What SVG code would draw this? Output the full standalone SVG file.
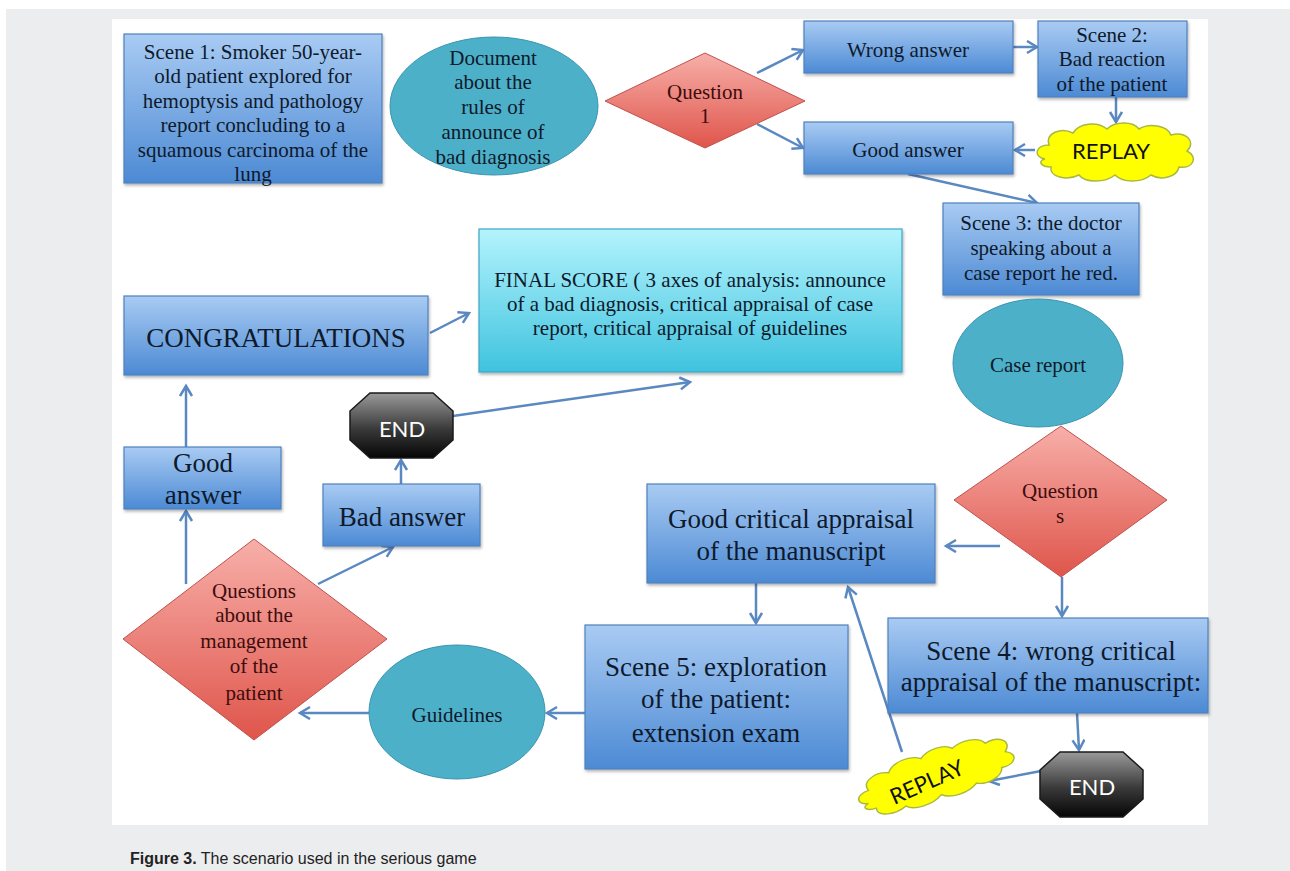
<svg xmlns="http://www.w3.org/2000/svg" width="1290" height="871" viewBox="0 0 1290 871">
<defs>
<linearGradient id="gBlue" x1="0" y1="0" x2="0" y2="1"><stop offset="0" stop-color="#A9CBF3"/><stop offset="1" stop-color="#4C8AD4"/></linearGradient>
<linearGradient id="gCyan" x1="0" y1="0" x2="0" y2="1"><stop offset="0" stop-color="#B4F4FD"/><stop offset="1" stop-color="#3FC3DF"/></linearGradient>
<linearGradient id="gRed" x1="0" y1="0" x2="0" y2="1"><stop offset="0" stop-color="#F7AFA9"/><stop offset="1" stop-color="#DF554B"/></linearGradient>
<linearGradient id="gEnd" x1="0" y1="0" x2="0" y2="1"><stop offset="0" stop-color="#9A9A9A"/><stop offset="0.55" stop-color="#3A3A3A"/><stop offset="1" stop-color="#050505"/></linearGradient>
<filter id="sh" x="-10%" y="-10%" width="120%" height="130%"><feDropShadow dx="1" dy="2" stdDeviation="1.5" flood-color="#000" flood-opacity="0.3"/></filter>
<marker id="ar" markerUnits="userSpaceOnUse" markerWidth="16" markerHeight="16" refX="12" refY="7" orient="auto"><path d="M2,1 L12,7 L2,13" fill="none" stroke="#5A88C0" stroke-width="2.5"/></marker>
<path id="cloud" d="M14,38 C2,36 4,24 18,24 C14,12 30,6 42,12 C48,2 66,0 76,8 C84,0 102,0 108,8 C118,2 136,4 140,14 C154,10 166,20 156,30 C168,36 162,48 148,46 C146,56 130,60 120,54 C110,62 92,62 84,54 C74,62 54,62 48,54 C36,60 18,56 20,46 C10,46 6,40 14,38 Z"/>
<style>
.box{fill:url(#gBlue);stroke:#4F81BD;stroke-width:1.2;filter:url(#sh)}
.cyan{fill:url(#gCyan);stroke:#3FA7C4;stroke-width:1.2;filter:url(#sh)}
.dia{fill:url(#gRed);stroke:#C0504D;stroke-width:1}
.ell{fill:#4DB0C9;stroke:#3A95B0;stroke-width:1}
.cl{fill:#FFFF00;stroke:#A8B840;stroke-width:1.5}
.oct{fill:url(#gEnd);stroke:#1A1A1A;stroke-width:1.5}
.t{font-family:"Liberation Serif",serif;fill:#0E1A2B;text-anchor:middle;font-size:21px}
.tb{font-family:"Liberation Serif",serif;fill:#0E1A2B;text-anchor:middle;font-size:27px}
.td{font-family:"Liberation Serif",serif;fill:#3D0D0D;text-anchor:middle;font-size:21px}
.ts{font-family:Lato,"Open Sans",sans-serif;text-anchor:middle;font-size:22px}
.cn{fill:none;stroke:#5A88C0;stroke-width:2.5;marker-end:url(#ar)}
</style>
</defs>
<rect x="0" y="0" width="1290" height="871" fill="#FFFFFF"/>
<rect x="6" y="9" width="1284" height="862" fill="#ECEDEF"/>
<rect x="112" y="19" width="1096" height="806" fill="#FFFFFF"/>

<g id="connectors">
<line class="cn" x1="757" y1="73" x2="803" y2="50"/>
<line class="cn" x1="757" y1="124" x2="803" y2="148"/>
<line class="cn" x1="1013" y1="47" x2="1037" y2="47"/>
<line class="cn" x1="1116" y1="92" x2="1116" y2="122"/>
<line class="cn" x1="1035" y1="150" x2="1015" y2="150"/>
<line class="cn" x1="908" y1="174" x2="1037" y2="203"/>
<line class="cn" x1="430" y1="333" x2="469" y2="313"/>
<line class="cn" x1="453" y1="416" x2="690" y2="382"/>
<line class="cn" x1="186" y1="447" x2="186" y2="386"/>
<line class="cn" x1="186" y1="584" x2="186" y2="511"/>
<line class="cn" x1="401" y1="484" x2="401" y2="460"/>
<line class="cn" x1="318" y1="584" x2="393" y2="547"/>
<line class="cn" x1="369" y1="713" x2="300" y2="713"/>
<line class="cn" x1="585" y1="713" x2="547" y2="713"/>
<line class="cn" x1="756" y1="583" x2="756" y2="623"/>
<line class="cn" x1="1000" y1="546" x2="946" y2="546"/>
<line class="cn" x1="1062" y1="577" x2="1062" y2="616"/>
<line class="cn" x1="1077" y1="713" x2="1079" y2="750"/>
<line class="cn" x1="1041" y1="771" x2="989" y2="781"/>
<line class="cn" x1="902" y1="752" x2="848" y2="587"/>
</g>

<g id="scene1"><rect class="box" x="124" y="34" width="258" height="149"/>
<text class="t"><tspan x="253" y="59">Scene 1: Smoker 50-year-</tspan><tspan x="253" y="83">old patient explored for</tspan><tspan x="253" y="108">hemoptysis and pathology</tspan><tspan x="253" y="132">report concluding to a</tspan><tspan x="253" y="157">squamous carcinoma of the</tspan><tspan x="253" y="181">lung</tspan></text></g>

<g id="document"><ellipse class="ell" cx="494" cy="106" rx="104" ry="69"/>
<text class="t"><tspan x="493" y="65">Document</tspan><tspan x="493" y="89">about the</tspan><tspan x="493" y="114">rules of</tspan><tspan x="493" y="139">announce of</tspan><tspan x="493" y="164">bad diagnosis</tspan></text></g>

<g id="question1"><polygon class="dia" points="605,101 705,53 805,101 705,148"/>
<text class="td"><tspan x="705" y="99">Question</tspan><tspan x="705" y="123">1</tspan></text></g>

<g id="wrong-answer"><rect class="box" x="804" y="21" width="209" height="52"/>
<text class="t" x="908" y="57">Wrong answer</text></g>

<g id="scene2"><rect class="box" x="1038" y="21" width="149" height="76"/>
<text class="t"><tspan x="1112" y="42">Scene 2:</tspan><tspan x="1112" y="66">Bad reaction</tspan><tspan x="1112" y="91">of the patient</tspan></text></g>

<g id="good-answer-1"><rect class="box" x="804" y="122" width="209" height="52"/>
<text class="t" x="908" y="157">Good answer</text></g>

<g id="replay-1"><use href="#cloud" class="cl" transform="translate(1031,121)"/>
<text class="ts" x="1111" y="159" fill="#111">REPLAY</text></g>

<g id="scene3"><rect class="box" x="943" y="203" width="196" height="92"/>
<text class="t"><tspan x="1041" y="230">Scene 3: the doctor</tspan><tspan x="1041" y="255">speaking about a</tspan><tspan x="1041" y="280">case report he red.</tspan></text></g>

<g id="final-score"><rect class="cyan" x="479" y="229" width="423" height="143"/>
<text class="t"><tspan x="690" y="287">FINAL SCORE ( 3 axes of analysis: announce</tspan><tspan x="690" y="311">of a bad diagnosis, critical appraisal of case</tspan><tspan x="690" y="335">report, critical appraisal of guidelines</tspan></text></g>

<g id="congratulations"><rect class="box" x="124" y="296" width="304" height="79"/>
<text class="tb" x="276" y="347">CONGRATULATIONS</text></g>

<g id="case-report"><ellipse class="ell" cx="1038" cy="363" rx="85" ry="64"/>
<text class="t" x="1038" y="372">Case report</text></g>

<g id="end-1"><polygon class="oct" points="370,393 433,393 453,411 453,440 433,458 370,458 350,440 350,411"/>
<text class="ts" x="402" y="437" fill="#FFFFFF">END</text></g>

<g id="good-answer-2"><rect class="box" x="124" y="447" width="157" height="62"/>
<text class="tb"><tspan x="203" y="472">Good</tspan><tspan x="203" y="504">answer</tspan></text></g>

<g id="bad-answer"><rect class="box" x="323" y="484" width="157" height="62"/>
<text class="tb" x="402" y="526">Bad answer</text></g>

<g id="questions"><polygon class="dia" points="1061,426 1167,500 1061,577 954,500"/>
<text class="td"><tspan x="1060" y="498">Question</tspan><tspan x="1060" y="523">s</tspan></text></g>

<g id="good-critical"><rect class="box" x="647" y="484" width="288" height="99"/>
<text class="tb"><tspan x="791" y="528">Good critical appraisal</tspan><tspan x="791" y="560">of the manuscript</tspan></text></g>

<g id="questions-management"><polygon class="dia" points="123,639 254,539 387,639 254,740"/>
<text class="td"><tspan x="254" y="598">Questions</tspan><tspan x="254" y="622">about the</tspan><tspan x="254" y="648">management</tspan><tspan x="254" y="673">of the</tspan><tspan x="254" y="700">patient</tspan></text></g>

<g id="guidelines"><ellipse class="ell" cx="457" cy="712" rx="88" ry="67"/>
<text class="t" x="457" y="722">Guidelines</text></g>

<g id="scene5"><rect class="box" x="585" y="625" width="263" height="144"/>
<text class="tb"><tspan x="716" y="676">Scene 5: exploration</tspan><tspan x="716" y="708">of the patient:</tspan><tspan x="716" y="742">extension exam</tspan></text></g>

<g id="scene4"><rect class="box" x="888" y="618" width="320" height="95"/>
<text class="tb"><tspan x="1051" y="660">Scene 4: wrong critical</tspan><tspan x="1051" y="691">appraisal of the manuscript:</tspan></text></g>

<g id="end-2"><polygon class="oct" points="1060,752 1123,752 1143,770 1143,799 1123,817 1060,817 1040,799 1040,770"/>
<text class="ts" x="1092" y="795" fill="#FFFFFF">END</text></g>

<g id="replay-2"><use href="#cloud" class="cl" transform="translate(936,775) rotate(-18) scale(1.03,0.88) translate(-85,-31)"/>
<text class="ts" x="0" y="0" fill="#111" transform="translate(930,789) rotate(-24)">REPLAY</text></g>

<g id="caption"><text x="130" y="864" font-family="Liberation Sans,Arial,sans-serif" font-size="16" fill="#222"><tspan font-weight="bold">Figure 3.</tspan> The scenario used in the serious game</text></g>
</svg>
